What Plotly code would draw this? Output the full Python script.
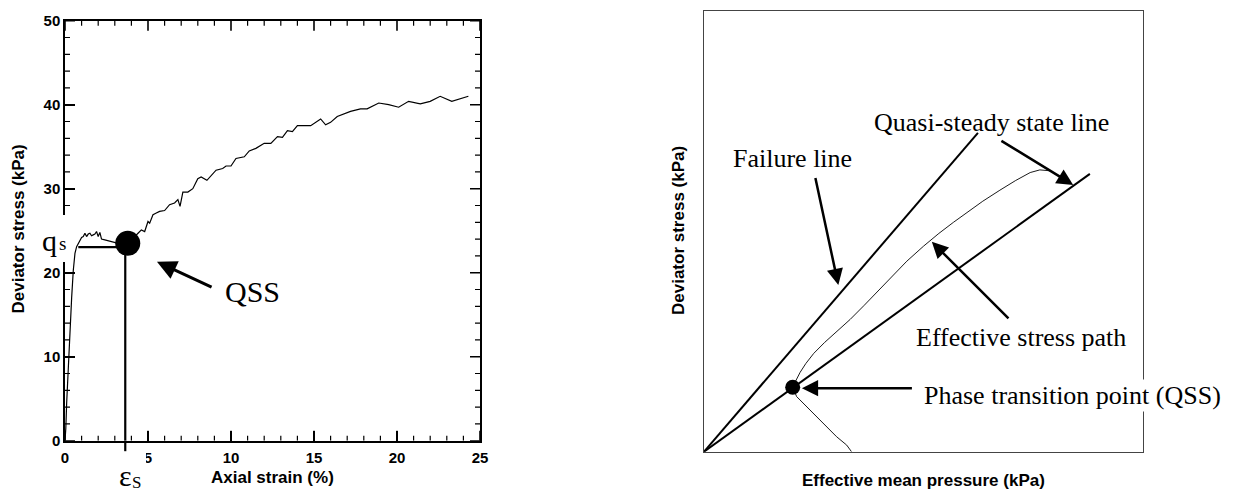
import plotly.graph_objects as go

W, H = 1241, 491

# ---------------- left panel: stress-strain record ----------------
axial_strain = [0, 0.05, 0.1, 0.2, 0.3, 0.4, 0.5, 0.6, 0.7, 0.8, 0.9, 1.0, 1.1, 1.2, 1.3,
                1.4, 1.5, 1.6, 1.7, 1.8, 1.9, 2.0, 2.1, 2.2, 2.4, 2.6, 2.8, 3.0, 3.2, 3.4,
                3.6, 3.8, 4.0, 4.2, 4.4, 4.6, 4.8, 5.0, 5.1, 5.3, 5.5, 5.7, 6.0, 6.3, 6.6,
                6.8, 6.93, 7.1, 7.4, 7.7, 8.0, 8.2, 8.55, 9.1, 9.5, 9.7, 10.0, 10.3, 10.8,
                11.1, 11.5, 12.0, 12.4, 12.8, 13.1, 13.4, 13.7, 14.0, 14.4, 14.8, 15.4,
                15.7, 16.0, 16.4, 17.2, 17.8, 18.2, 18.9, 19.5, 20.1, 20.7, 21.4, 22.0,
                22.6, 23.3, 24.3]
deviator_stress = [0, 1.5, 4.5, 9.2, 13.5, 17.0, 20.3, 22.3, 23.1, 23.5, 24.0, 24.2, 24.3,
                   24.7, 24.3, 24.6, 24.7, 24.4, 24.5, 24.6, 24.9, 24.3, 24.8, 24.0, 23.9,
                   23.8, 23.7, 23.6, 23.5, 23.5, 23.5, 23.6, 23.9, 24.3, 24.7, 25.1, 24.9,
                   26.1, 25.9, 26.9, 27.1, 27.3, 27.4, 28.1, 28.3, 28.7, 27.9, 29.6, 29.6,
                   30.0, 31.2, 31.4, 31.0, 32.2, 32.4, 32.7, 32.7, 33.6, 33.8, 34.5, 34.8,
                   35.4, 35.4, 36.2, 36.1, 36.9, 36.8, 37.5, 37.5, 37.5, 38.3, 37.6, 37.9,
                   38.6, 39.2, 39.5, 39.5, 40.2, 40.0, 39.7, 40.4, 40.1, 40.4, 41.0, 40.4,
                   41.0]

strain_ticks = [0, 5, 10, 15, 20, 25]
stress_ticks = [0, 10, 20, 30, 40, 50]
strain_minor_step = 1
stress_minor_step = 2

# quasi-steady state (QSS) marker and its guide lines
qss_strain, qss_stress = 3.78, 23.5
eps_s, q_s = 3.63, 23.05
qs_guide_start = 0.8

# ---------------- right panel: effective stress path sketch ----------------
failure_p = [0, 62.4]
failure_q = [0, 72.3]
qssl_p = [0, 87.9]
qssl_q = [0, 63.0]
path_p = [33.6, 32.5, 30.2, 27.2, 23.4, 21.1, 20.2, 21.0, 21.9, 23.2, 25.0, 27.5, 30.2,
          33.3, 36.5, 39.5, 42.4, 46.2, 50.0, 53.5, 56.8, 59.8, 63.5, 67.4, 71.0, 74.3,
          76.5, 78.8]
path_q = [0, 1.5, 3.4, 6.4, 10.2, 12.5, 14.7, 16.4, 18.0, 20.0, 22.3, 24.8, 27.2,
          30.0, 33.2, 36.3, 39.5, 43.2, 46.6, 49.5, 52.0, 54.1, 56.8, 59.3, 61.5, 63.3,
          63.9, 63.7]
pt_p, pt_q = 20.2, 14.6

# page margins and the two panel boxes, in pixels (left, right, top, bottom)
M_L, M_R, M_T, M_B = 65, 98, 10, 39
L_BOX = (65, 480, 20.7, 440.7)
R_BOX = (704, 1143, 10.7, 451.7)
AREA_W = W - M_L - M_R
AREA_H = H - M_T - M_B


def px(x):
    return (x - M_L) / AREA_W


def py(y):
    return (H - M_B - y) / AREA_H


SANS = "Liberation Sans, Arial, sans-serif"
SERIF = "Liberation Serif, Times New Roman, serif"

STRAIN_RANGE = [strain_ticks[0], strain_ticks[-1]]
STRESS_RANGE = [stress_ticks[0], stress_ticks[-1]]

fig = go.Figure()

# inward major/minor tick marks on all four sides of the left panel,
# lengths given in pixels and converted through the panel's scale
strain_per_px = (STRAIN_RANGE[1] - STRAIN_RANGE[0]) / (L_BOX[1] - L_BOX[0])
stress_per_px = (STRESS_RANGE[1] - STRESS_RANGE[0]) / (L_BOX[3] - L_BOX[2])
MAJOR_LEN, MINOR_LEN = 10, 5
maj_x, maj_y, min_x, min_y = [], [], [], []
n_x = int(round((STRAIN_RANGE[1] - STRAIN_RANGE[0]) / strain_minor_step))
for i in range(n_x + 1):
    v = STRAIN_RANGE[0] + i * strain_minor_step
    major = v in strain_ticks
    d = (MAJOR_LEN if major else MINOR_LEN) * stress_per_px
    xs, ys = (maj_x, maj_y) if major else (min_x, min_y)
    xs += [v, v, None, v, v, None]
    ys += [STRESS_RANGE[0], STRESS_RANGE[0] + d, None,
           STRESS_RANGE[1], STRESS_RANGE[1] - d, None]
n_y = int(round((STRESS_RANGE[1] - STRESS_RANGE[0]) / stress_minor_step))
for i in range(n_y + 1):
    v = STRESS_RANGE[0] + i * stress_minor_step
    major = v in stress_ticks
    d = (MAJOR_LEN if major else MINOR_LEN) * strain_per_px
    xs, ys = (maj_x, maj_y) if major else (min_x, min_y)
    xs += [STRAIN_RANGE[0], STRAIN_RANGE[0] + d, None,
           STRAIN_RANGE[1], STRAIN_RANGE[1] - d, None]
    ys += [v, v, None, v, v, None]

fig.add_trace(go.Scatter(x=maj_x, y=maj_y, mode="lines", line=dict(color="black", width=1.6),
                         xaxis="x", yaxis="y", showlegend=False, hoverinfo="skip"))
fig.add_trace(go.Scatter(x=min_x, y=min_y, mode="lines", line=dict(color="black", width=1.2),
                         xaxis="x", yaxis="y", showlegend=False, hoverinfo="skip"))

fig.add_trace(go.Scatter(x=axial_strain, y=deviator_stress, mode="lines",
                         line=dict(color="black", width=1.2), xaxis="x", yaxis="y",
                         showlegend=False, hoverinfo="skip"))
fig.add_trace(go.Scatter(x=[qss_strain], y=[qss_stress], mode="markers",
                         marker=dict(color="black", size=25), xaxis="x", yaxis="y",
                         showlegend=False, hoverinfo="skip"))

fig.add_trace(go.Scatter(x=failure_p, y=failure_q, mode="lines",
                         line=dict(color="black", width=2), xaxis="x2", yaxis="y2",
                         showlegend=False, hoverinfo="skip"))
fig.add_trace(go.Scatter(x=qssl_p, y=qssl_q, mode="lines",
                         line=dict(color="black", width=2), xaxis="x2", yaxis="y2",
                         showlegend=False, hoverinfo="skip"))
fig.add_trace(go.Scatter(x=path_p, y=path_q, mode="lines",
                         line=dict(color="black", width=0.9), xaxis="x2", yaxis="y2",
                         showlegend=False, hoverinfo="skip"))
fig.add_trace(go.Scatter(x=[pt_p], y=[pt_q], mode="markers",
                         marker=dict(color="black", size=15), xaxis="x2", yaxis="y2",
                         showlegend=False, hoverinfo="skip"))

tickfont = dict(family=SANS, size=15, color="black", weight="bold")
boxed = dict(showgrid=False, zeroline=False, showline=True, linecolor="black",
             linewidth=1.5, mirror=True, ticks="inside", ticklen=10, tickwidth=1.6,
             tickcolor="black", tickfont=tickfont, automargin=False)
plain = dict(showgrid=False, zeroline=False, showline=True, mirror=True,
             linecolor="#444", linewidth=1.2, showticklabels=False, ticks="",
             automargin=False)

fig.update_layout(
    template="none",
    width=W, height=H, margin=dict(l=M_L, r=M_R, t=M_T, b=M_B),
    paper_bgcolor="white", plot_bgcolor="white", showlegend=False,
    xaxis=dict(domain=[px(L_BOX[0]), px(L_BOX[1])], range=STRAIN_RANGE, anchor="y",
               tickmode="array", tickvals=strain_ticks, ticklabelstandoff=3, **boxed),
    yaxis=dict(domain=[py(L_BOX[3]), py(L_BOX[2])], range=STRESS_RANGE, anchor="x",
               tickmode="array", tickvals=stress_ticks, **boxed),
    xaxis2=dict(domain=[px(R_BOX[0]), px(R_BOX[1])], range=[0, 100], anchor="y2", **plain),
    yaxis2=dict(domain=[py(R_BOX[3]), py(R_BOX[2])], range=[0, 100], anchor="x2", **plain),
)

shapes = []
# guide lines from the QSS point to both axes
shapes.append(dict(type="line", xref="x", yref="y", x0=qs_guide_start, x1=eps_s,
                   y0=q_s, y1=q_s, line=dict(color="black", width=2.2), layer="above"))
shapes.append(dict(type="line", xref="x", yref="y", x0=eps_s, x1=eps_s,
                   y0=q_s, y1=0, line=dict(color="black", width=2.2), layer="above"))
shapes.append(dict(type="line", xref="x", yref="paper", x0=eps_s, x1=eps_s,
                   y0=py(L_BOX[3]), y1=py(L_BOX[3] + 10.5),
                   line=dict(color="black", width=2.2), layer="above"))
# white backing boxes behind the q_s and eps_s labels
shapes.append(dict(type="rect", xref="paper", yref="paper", x0=px(38), x1=px(71),
                   y0=py(262), y1=py(215), fillcolor="white", line=dict(width=0),
                   layer="above"))
shapes.append(dict(type="rect", xref="paper", yref="paper", x0=px(104), x1=px(146),
                   y0=py(491), y1=py(452), fillcolor="white", line=dict(width=0),
                   layer="above"))
fig.update_layout(shapes=shapes)

ann = []


def label(text, x, y, size, family=SERIF, weight="normal", angle=0, bg=None):
    d = dict(text=text, xref="paper", yref="paper", x=px(x), y=py(y),
             xanchor="center", yanchor="middle", showarrow=False, textangle=angle,
             font=dict(family=family, size=size, color="black", weight=weight))
    if bg:
        d["bgcolor"] = bg
    ann.append(d)


def arrow(xref, yref, head, tail, width=2.5):
    ann.append(dict(text="", xref=xref, yref=yref, x=head[0], y=head[1],
                    axref=xref, ayref=yref, ax=tail[0], ay=tail[1], showarrow=True,
                    arrowhead=2, arrowsize=1.3, arrowwidth=width, arrowcolor="black",
                    standoff=0))


# left panel titles and labels
label("Axial strain (%)", 272.5, 477, 17, SANS, "bold")
label("Deviator stress (kPa)", 17.5, 229, 17, SANS, "bold", angle=-90)
label("q", 49.5, 241, 30)
label("s", 62, 243, 19)
label("\u03b5", 125, 475, 30)
label("S", 136, 482.5, 17)
label("QSS", 252, 291, 30)
arrow("x", "y", (5.54, 21.3), (8.92, 18.2), width=3)

# right panel titles and labels
label("Effective mean pressure (kPa)", 923.5, 480, 17, SANS, "bold")
label("Deviator stress (kPa)", 678, 231, 17, SANS, "bold", angle=-90)
label("Failure line", 792, 158, 26)
label("Quasi-steady state line", 992, 122, 26)
label("Effective stress path", 1020.5, 337, 26)
label("Phase transition point (QSS)", 1072.5, 395, 26, bg="white")
arrow("x2", "y2", (30.6, 37.8), (25.3, 62.4))
arrow("x2", "y2", (84.1, 60.5), (67.4, 70.7))
arrow("x2", "y2", (51.9, 47.6), (69.7, 29.9))
arrow("x2", "y2", (22.3, 14.4), (47.7, 14.4))

fig.update_layout(annotations=ann)

fig.write_html("out.html")
